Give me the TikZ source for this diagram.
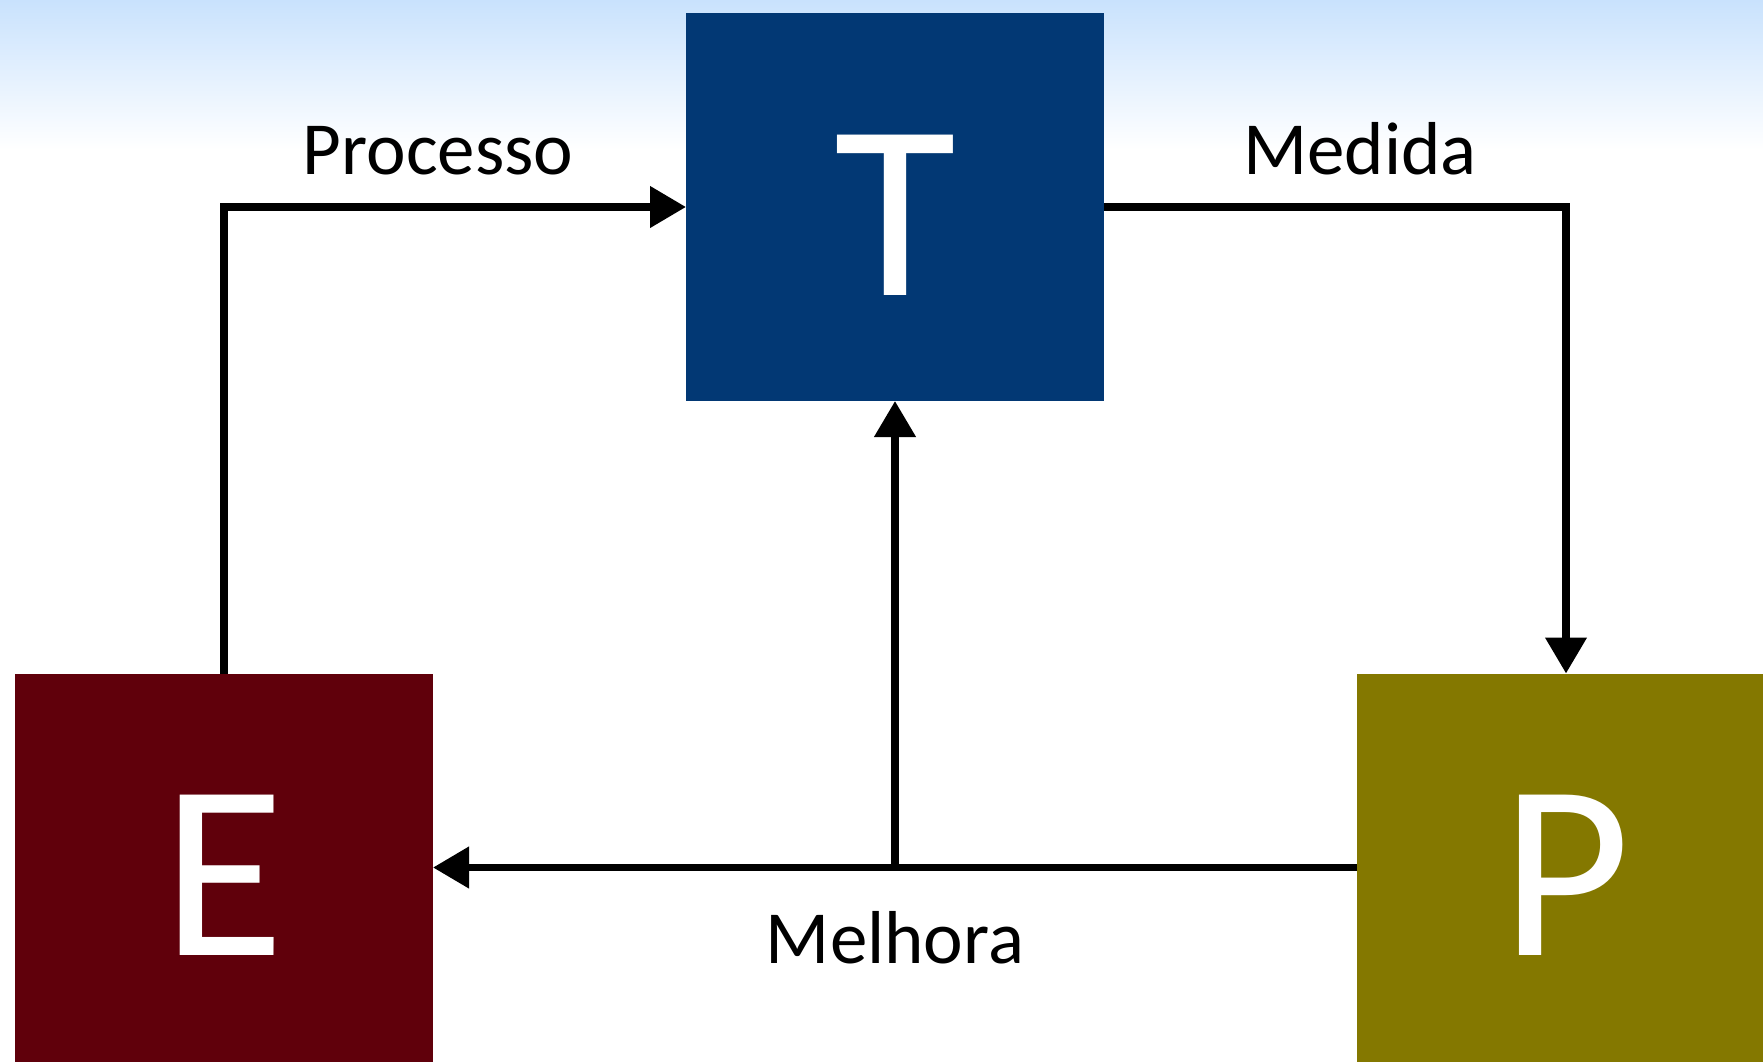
\documentclass[tikz,border=0pt]{standalone}
\usepackage{fontspec}
\setmainfont{Carlito}
\usetikzlibrary{arrows.meta}
\definecolor{tblue}{RGB}{2,56,116}
\definecolor{ered}{RGB}{96,0,11}
\definecolor{polive}{RGB}{132,120,0}
\definecolor{skytop}{RGB}{201,226,253}
\tikzset{
  box/.style={draw=none,minimum width=418pt,minimum height=388pt,inner sep=0pt,outer sep=0pt},
  bigletter/.style={text=white,font=\fontsize{250}{250}\selectfont,anchor=base,inner sep=0pt},
  lbl/.style={text=black,font=\fontsize{75}{75}\selectfont,anchor=base,inner sep=0pt},
  conn/.style={line width=7.5pt,-{Triangle[width=40pt,length=36pt]}},
}
\begin{document}
\begin{tikzpicture}[x=1pt,y=-1pt]
\useasboundingbox (0,0) rectangle (1763,1063);
\fill[white] (0,0) rectangle (1763,1063);
\shade[top color=skytop,bottom color=white] (0,0) rectangle (1763,150);

\node[box,fill=tblue] (T) at (895,207) {};
\node[box,fill=ered] (E) at (224,867.5) {};
\node[box,fill=polive] (P) at (1566,867.5) {};

\node[bigletter] (tT) at (895,295) {T};
\node[bigletter] (tE) at (224,955) {E};
\node[bigletter] (tP) at (1566,955) {P};

\coordinate (c1) at (E.north |- T.west);
\coordinate (c2) at (P.north |- T.east);
\coordinate (c3) at (T.south |- E.east);

\draw[conn,line join=miter] (E.north) -- (c1) -- (T.west);
\draw[conn,line join=miter] (T.east) -- (c2) -- (P.north);
\draw[conn] (P.west) -- (E.east);
\draw[conn] (c3) -- (T.south);

\node[lbl] (lp) at (438,174) {Processo};
\node[lbl] (lm) at (1360,174) {Medida};
\node[lbl] (lh) at (895,963.5) {Melhora};
\end{tikzpicture}
\end{document}
